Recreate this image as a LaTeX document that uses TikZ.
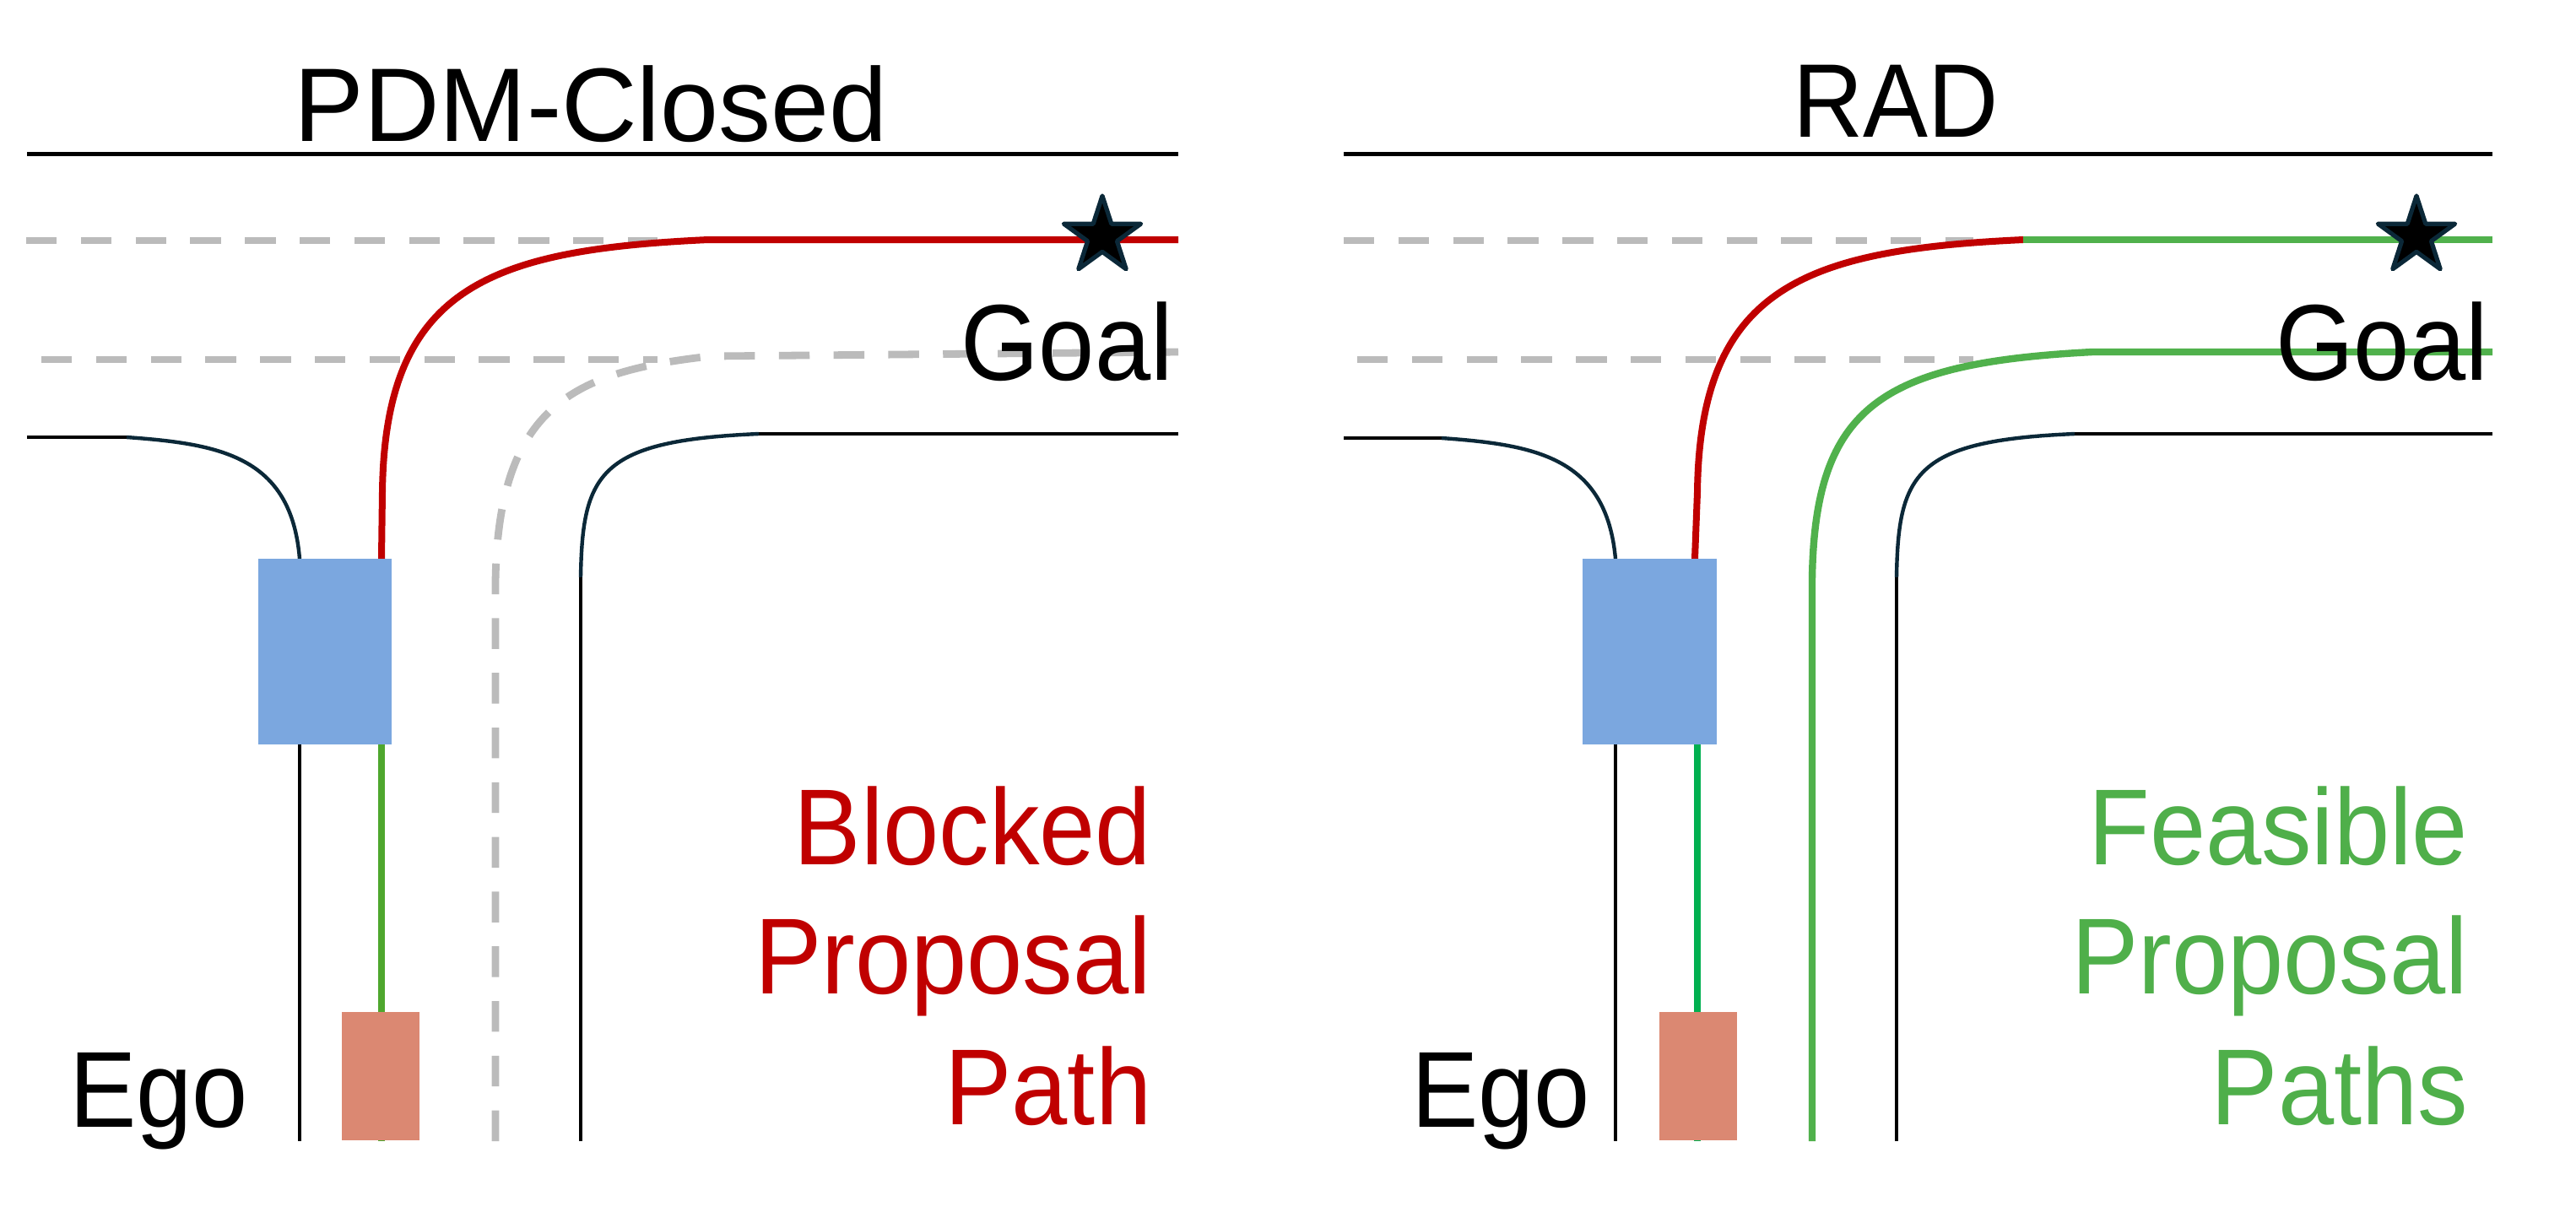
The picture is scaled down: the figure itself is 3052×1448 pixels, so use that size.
\documentclass[tikz,border=0pt]{standalone}
\usepackage{fontspec}
\setmainfont{Liberation Sans}
\newfontfamily\narrowsf{Liberation Sans}[FakeStretch=0.93]
\usetikzlibrary{shapes.geometric}
\definecolor{pathred}{HTML}{C00000}
\definecolor{textgreen}{HTML}{4FAF4A}
\definecolor{curvegreen}{HTML}{50B14C}
\definecolor{shortgreenL}{HTML}{4EA72E}
\definecolor{shortgreenR}{HTML}{00B050}
\definecolor{carblue}{HTML}{7BA7DF}
\definecolor{egoorange}{HTML}{DB8872}
\definecolor{lanegray}{HTML}{BBBBBB}
\definecolor{roadnavy}{HTML}{0B2838}
\tikzset{
  topline/.style={line width=1.25pt, black},
  roadline/.style={line width=1.1pt, black},
  roadcurve/.style={line width=1.1pt, roadnavy},
  laneline/.style={line width=2.2pt, lanegray, dash pattern=on 9.1pt off 7.1pt},
  redpath/.style={line width=2pt, pathred},
  greenpath/.style={line width=2.1pt, curvegreen},
  goalstar/.style={star, star points=5, star point ratio=2.618, minimum size=24pt,
    inner sep=0pt, fill=black, draw=roadnavy, line width=1.3pt, line join=round},
  titletext/.style={font=\fontsize{31}{37}\selectfont, inner sep=0pt, anchor=base},
  labeltext/.style={font=\narrowsf\fontsize{32}{38}\selectfont, inner sep=0pt},
}
\begin{document}
\begin{tikzpicture}[x=0.25pt,y=-0.25pt]
\useasboundingbox (0,0) rectangle (3052,1448);
\fill[white] (0,0) rectangle (3052,1448);

% ================= LEFT PANEL: PDM-Closed =================
\draw[topline] (32,182) -- (1396,182);
\draw[laneline] (31,285) -- (779,285);
\draw[laneline] (49,426) -- (779,426);
\draw[laneline] (587,1352) -- (587,690) .. controls (590,480) and (680,440) .. (842,422) -- (1396,417);
% road edges
\draw[roadline] (32,518) -- (150,518);
\draw[roadcurve] (150,518) .. controls (260,526) and (345,540) .. (355,662);
\draw[roadline] (355,662) -- (355,1352);
\draw[roadline] (1396,514) -- (899,514);
\draw[roadcurve] (899,514) .. controls (710,522) and (690,560) .. (688,684);
\draw[roadline] (688,684) -- (688,1352);
% paths
\draw[redpath] (452,662) -- (453,583) .. controls (456,340) and (580,296) .. (839,284) -- (1396,284);
\draw[line width=2.1pt, shortgreenL] (452,882) -- (452,1352);
% vehicles
\fill[carblue] (306,662) rectangle (464,882);
\fill[egoorange] (405,1199) rectangle (497,1351);
\node[goalstar] (starL) at (1306,280) {};
% texts
\node[titletext] (titleL) at (700,167) {PDM-Closed};
\node[labeltext, anchor=base] (goalL) at (1264,450) {Goal};
\node[labeltext, anchor=base] (egoL) at (188,1335) {Ego};
\node[labeltext, anchor=base east, text=pathred] (blk1) at (1365,1024) {Blocked};
\node[labeltext, anchor=base east, text=pathred] (blk2) at (1365,1177) {Proposal};
\node[labeltext, anchor=base east, text=pathred] (blk3) at (1365,1332) {Path};

% ================= RIGHT PANEL: RAD =================
\draw[topline] (1592,182) -- (2953,182);
\draw[laneline] (1592,285) -- (2338,285);
\draw[laneline] (1608,426) -- (2338,426);
% road edges
\draw[roadline] (1592,519) -- (1708,519);
\draw[roadcurve] (1708,519) .. controls (1818,527) and (1903,541) .. (1914,662);
\draw[roadline] (1914,662) -- (1914,1352);
\draw[roadline] (2953,514) -- (2458,514);
\draw[roadcurve] (2458,514) .. controls (2269,522) and (2249,560) .. (2247,684);
\draw[roadline] (2247,684) -- (2247,1352);
% paths
\draw[redpath] (2008,662) -- (2011,583) .. controls (2014,340) and (2138,296) .. (2397,284);
\draw[greenpath] (2397,284) -- (2953,284);
\draw[greenpath] (2147,1352) -- (2147,686) .. controls (2150,480) and (2230,430) .. (2479,417) -- (2953,417);
\draw[line width=2.1pt, shortgreenR] (2011,882) -- (2011,1352);
% vehicles
\fill[carblue] (1875,662) rectangle (2034,882);
\fill[egoorange] (1966,1199) rectangle (2058,1351);
\node[goalstar] (starR) at (2863,280) {};
% texts
\node[titletext, font=\narrowsf\fontsize{31}{37}\selectfont] (titleR) at (2246,162) {RAD};
\node[labeltext, anchor=base] (goalR) at (2822,450) {Goal};
\node[labeltext, anchor=base] (egoR) at (1778,1335) {Ego};
\node[labeltext, anchor=base east, text=textgreen] (fea1) at (2925,1024) {Feasible};
\node[labeltext, anchor=base east, text=textgreen] (fea2) at (2925,1177) {Proposal};
\node[labeltext, anchor=base east, text=textgreen] (fea3) at (2925,1332) {Paths};
\end{tikzpicture}
\end{document}
